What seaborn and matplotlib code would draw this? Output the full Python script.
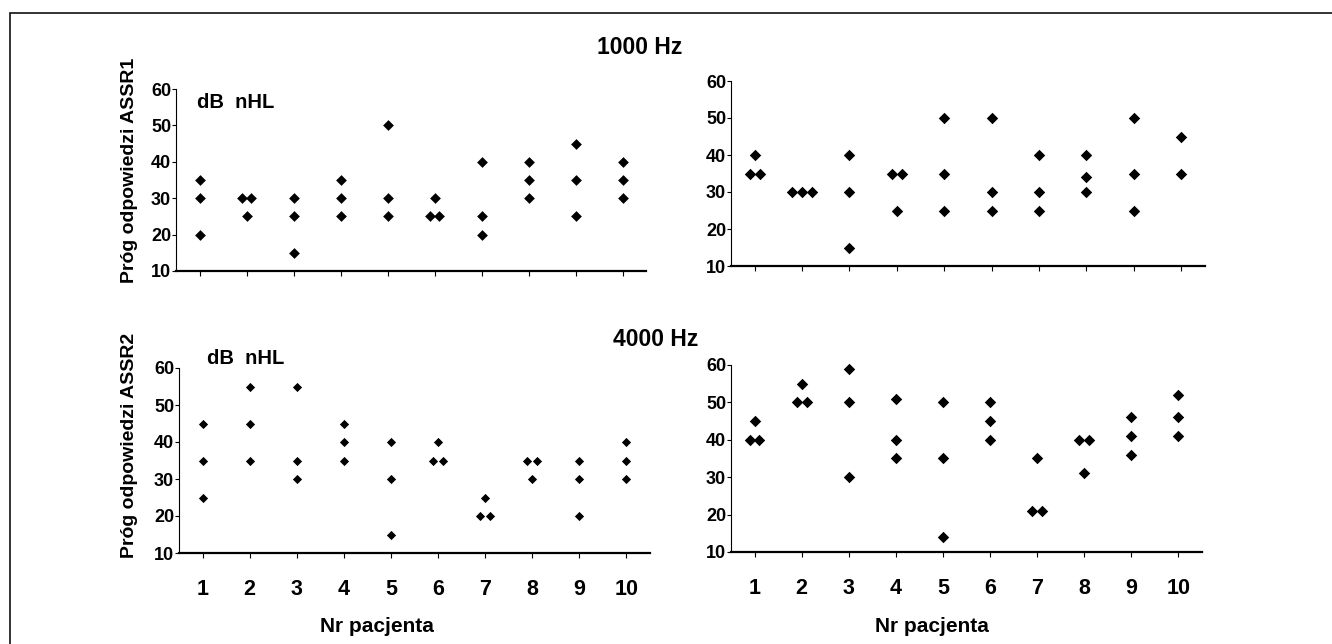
import pandas as pd
import matplotlib.pyplot as plt
import seaborn as sns
from matplotlib.patches import Rectangle

# Styl: czysty, bez siatki, pogrubiona czcionka typu Arial, wszystko na czarno
sns.set_style("ticks")
plt.rcParams['font.family'] = ['Liberation Sans', 'DejaVu Sans']
plt.rcParams['font.weight'] = 'bold'
for klucz in ['text.color', 'axes.labelcolor', 'xtick.color', 'ytick.color', 'axes.edgecolor']:
    plt.rcParams[klucz] = 'black'

PACJENCI = [1, 2, 3, 4, 5, 6, 7, 8, 9, 10]
ETYKIETY_X = ['1', '2', '3', '4', '5', '6', '7', '8', '9', '10']
ETYKIETY_Y = [10, 20, 30, 40, 50, 60]

# --- Progi odpowiedzi (dB nHL), po kilka pomiarów na pacjenta ---
# 1000 Hz (ASSR1)
hz1000_lewy = [[35, 30, 20], [30, 30, 25], [30, 25, 15], [35, 30, 25], [50, 30, 25],
               [30, 25, 25], [40, 25, 20], [40, 35, 30], [45, 35, 25], [40, 35, 30]]
hz1000_prawy = [[40, 35, 35], [30, 30, 30], [40, 30, 15], [35, 35, 25], [50, 35, 25],
                [50, 30, 25], [40, 30, 25], [40, 34, 30], [50, 35, 25], [45, 35]]
# 4000 Hz (ASSR2)
hz4000_lewy = [[45, 35, 25], [55, 45, 35], [55, 35, 30], [45, 40, 35], [40, 30, 15],
               [40, 35, 35], [25, 20, 20], [35, 35, 30], [35, 30, 20], [40, 35, 30]]
hz4000_prawy = [[45, 40, 40], [55, 50, 50], [59, 50, 30], [51, 40, 35], [50, 35, 14],
                [50, 45, 40], [35, 21, 21], [40, 40, 31], [46, 41, 36], [52, 46, 41]]

ROZSTAW = 0.21  # odsunięcie powtórzonych wartości w poziomie (w jednostkach osi x)


def do_tabeli(wartosci):
    df = pd.DataFrame({
        'pacjent': [p for p, w in zip(PACJENCI, wartosci) for _ in w],
        'prog': [v for w in wartosci for v in w],
    })
    # powtórzone wartości obok siebie, symetrycznie wokół numeru pacjenta
    nr = df.groupby(['pacjent', 'prog']).cumcount()
    ile = df.groupby(['pacjent', 'prog'])['prog'].transform('size')
    df['x'] = df['pacjent'] + (nr - (ile - 1) / 2) * ROZSTAW
    return df


def rysuj(ax, wartosci, rozmiar, dolny):
    df = do_tabeli(wartosci)
    sns.scatterplot(data=df, x='x', y='prog', ax=ax, marker='D', color='black',
                    s=rozmiar, linewidth=0, legend=False, clip_on=False)
    ax.set_xlim(0.5, 10.5)
    ax.set_ylim(10, 60)
    ax.set_xticks(PACJENCI)
    ax.set_yticks(ETYKIETY_Y)
    ax.set_xlabel('')
    ax.set_ylabel('')
    sns.despine(ax=ax)
    ax.spines['left'].set_linewidth(0.8)
    ax.spines['bottom'].set_linewidth(1.6)
    ax.tick_params(axis='y', length=3, width=0.8, pad=0.5, labelsize=13)
    if dolny:
        ax.set_xticklabels(ETYKIETY_X)
        ax.tick_params(axis='x', length=3.5, width=0.8, pad=15, labelsize=15.5)
    else:
        ax.tick_params(axis='x', length=3.5, width=0.8, labelbottom=False)


W, H = 1332, 644
fig = plt.figure(figsize=(W / 100, H / 100), dpi=100)


def osie(x0, y0, x1, y1):
    # prostokąt w pikselach obrazu (od góry) -> współrzędne figury
    return fig.add_axes([x0 / W, 1 - y1 / H, (x1 - x0) / W, (y1 - y0) / H])


ax_tl = osie(176, 89, 646, 271)
ax_tr = osie(731, 81, 1205, 266)
ax_bl = osie(179, 368, 650, 553)
ax_br = osie(731, 365, 1202, 552)

rysuj(ax_tl, hz1000_lewy, 30, False)
rysuj(ax_tr, hz1000_prawy, 34, False)
rysuj(ax_bl, hz4000_lewy, 22, True)
rysuj(ax_br, hz4000_prawy, 34, True)

# Opisy
fig.text(640 / W, 1 - 47 / H, '1000 Hz', ha='center', va='center', fontsize=16.5)
fig.text(656 / W, 1 - 339 / H, '4000 Hz', ha='center', va='center', fontsize=16.5)
fig.text(197 / W, 1 - 102 / H, 'dB  nHL', ha='left', va='center', fontsize=14.5)
fig.text(207 / W, 1 - 358 / H, 'dB  nHL', ha='left', va='center', fontsize=14.5)
fig.text(130 / W, 1 - 170 / H, 'Próg odpowiedzi ASSR1', rotation=90,
         ha='center', va='center', fontsize=14)
fig.text(130 / W, 1 - 445 / H, 'Próg odpowiedzi ASSR2', rotation=90,
         ha='center', va='center', fontsize=14)
fig.text(377 / W, 1 - 627 / H, 'Nr pacjenta', ha='center', va='center', fontsize=15)
fig.text(932 / W, 1 - 627 / H, 'Nr pacjenta', ha='center', va='center', fontsize=15)

# Ramka całości (widoczne lewa i górna krawędź)
fig.add_artist(Rectangle((10 / W, -0.2), 1.5, (1 - 13 / H) + 0.2,
                         transform=fig.transFigure, fill=False, lw=1.2, ec='#111111'))

fig.savefig('out.png', dpi=100)
plt.close(fig)
